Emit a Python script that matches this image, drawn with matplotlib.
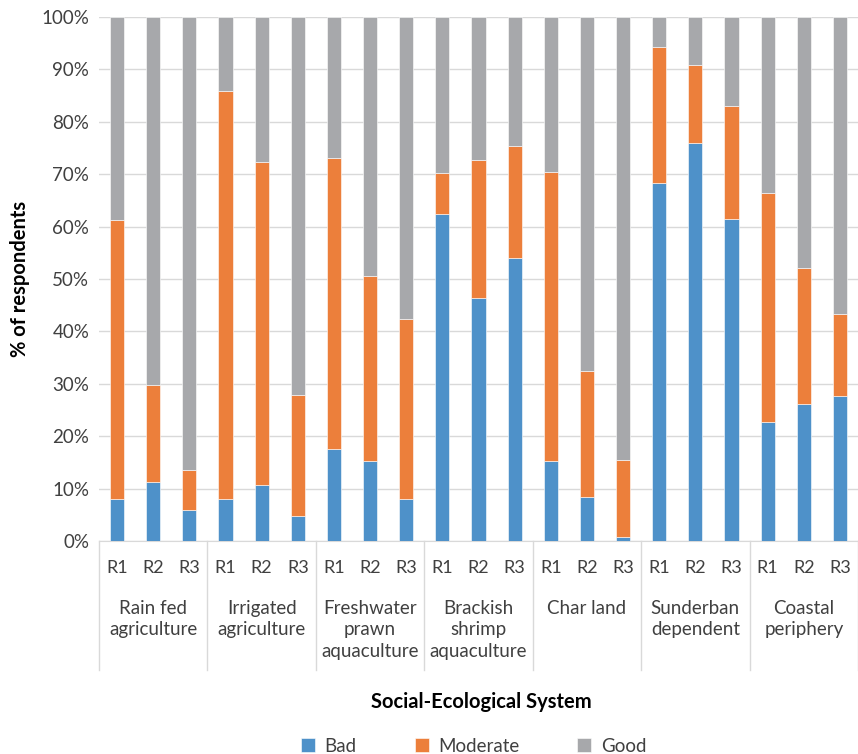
import matplotlib
matplotlib.use("Agg")
import matplotlib.pyplot as plt
import matplotlib.transforms as mtransforms
from matplotlib.ticker import PercentFormatter, FixedLocator
import numpy as np

plt.rcParams['font.family'] = ['Lato', 'DejaVu Sans']

groups = ["Rain fed\nagriculture", "Irrigated\nagriculture", "Freshwater\nprawn\naquaculture",
          "Brackish\nshrimp\naquaculture", "Char land", "Sunderban\ndependent", "Coastal\nperiphery"]
rounds = ["R1", "R2", "R3"]

bad = [8.0, 11.2, 6.0, 8.0, 10.6, 4.7, 17.6, 15.2, 8.0, 62.5, 46.3, 54.0,
       15.3, 8.4, 0.7, 68.3, 75.9, 61.4, 22.7, 26.2, 27.7]
moderate = [53.3, 18.5, 7.6, 77.9, 61.8, 23.2, 55.4, 35.4, 34.3, 7.8, 26.5, 21.3,
            55.1, 24.1, 14.8, 25.9, 15.0, 21.6, 43.8, 25.9, 15.6]
good = [100 - b - m for b, m in zip(bad, moderate)]

c_bad = "#4E91C9"
c_mod = "#EC7F3B"
c_good = "#A7A8AB"

W, H = 858, 754
fig = plt.figure(figsize=(W / 100, H / 100), dpi=100)
left, right, top, bottom = 99, 858, 17, 541
ax = fig.add_axes([left / W, 1 - bottom / H, (right - left) / W, (bottom - top) / H])

n = len(bad)
x = np.arange(n)
bw = 0.39
b = np.array(bad) / 100
m = np.array(moderate) / 100
g = np.array(good) / 100
ax.bar(x, b, bw, color=c_bad, label="Bad", edgecolor="white", linewidth=0.4, zorder=3)
ax.bar(x, m, bw, bottom=b, color=c_mod, label="Moderate", edgecolor="white", linewidth=0.4, zorder=3)
ax.bar(x, g, bw, bottom=b + m, color=c_good, label="Good", edgecolor="white", linewidth=0.4, zorder=3)

ax.set_xlim(-0.5, n - 0.5)
ax.set_ylim(0, 1)
ax.yaxis.set_major_locator(FixedLocator(np.linspace(0, 1, 11)))
ax.yaxis.set_major_formatter(PercentFormatter(1.0, decimals=0))
ax.grid(axis="y", color="#D9D9D9", linewidth=1.0, zorder=0)
for s in ["top", "right", "left"]:
    ax.spines[s].set_visible(False)
ax.spines["bottom"].set_color("#D9D9D9")
ax.tick_params(axis="y", length=0, labelsize=13.5, colors="#404040", pad=7)
ax.tick_params(axis="x", length=0, labelsize=13, colors="#404040", pad=14)
ax.set_xticks(x)
ax.set_xticklabels(rounds * len(groups))

trans = mtransforms.blended_transform_factory(ax.transData, ax.transAxes)
ph = bottom - top
sep_bottom = -(670 - bottom) / ph
for k in range(len(groups) + 1):
    xb = -0.5 + 3 * k
    ax.plot([xb, xb], [0, sep_bottom], transform=trans, color="#D9D9D9",
            linewidth=1.0, clip_on=False)
for k, gname in enumerate(groups):
    ax.text(3 * k + 1, -(600 - bottom) / ph, gname, transform=trans, ha="center", va="top",
            fontsize=13.5, color="#404040", linespacing=1.32)

ax.set_ylabel("% of respondents", fontsize=14.5, fontweight="bold", color="#000000", labelpad=8)
fig.text(481 / W, 1 - 702 / H, "Social-Ecological System",
         ha="center", va="center", fontsize=14.5, fontweight="bold")

handles, labels = ax.get_legend_handles_labels()
fig.legend(handles, labels, loc="center", bbox_to_anchor=(0.552, 1 - 746 / H), ncol=3,
           frameon=False, fontsize=13.5, handlelength=0.75, handleheight=0.75,
           handletextpad=0.5, columnspacing=3.1, labelcolor="#404040")

fig.savefig("out.png", dpi=100)
